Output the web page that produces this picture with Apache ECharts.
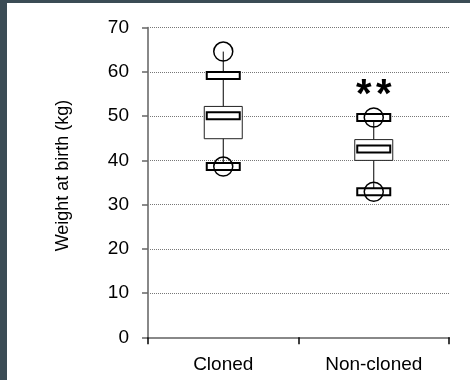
<!DOCTYPE html>
<html>
<head>
<meta charset="utf-8">
<script src="https://cdn.jsdelivr.net/npm/echarts@6/dist/echarts.min.js"></script>
<style>
  html, body { margin: 0; padding: 0; background: #3b4c55; width: 470px; height: 380px; overflow: hidden; }
  #chart { position: absolute; left: 7px; top: 3px; width: 463px; height: 377px; background: #ffffff; }
</style>
</head>
<body>
<div id="chart"></div>
<script>
// Birth weight by group (kg)
const categories = ['Cloned', 'Non-cloned'];
const maxVals    = [64.6, 49.7];  // circles, top
const upperCaps  = [59.2, 49.7];  // upper bar
const q3Vals     = [52.2, 44.7];
const medians    = [50.1, 42.6];
const q1Vals     = [44.9, 40.0];
const lowerCaps  = [38.6, 32.9];  // lower bar
const minVals    = [38.6, 32.9];  // circles, bottom
const sigMarks   = ['', '**'];
const yTicks     = [0, 10, 20, 30, 40, 50, 60, 70];

const FONT = 'Liberation Sans, Arial, sans-serif';

const boxData = categories.map((c, i) => [i, maxVals[i], upperCaps[i], q3Vals[i], medians[i], q1Vals[i], lowerCaps[i], minVals[i]]);

function renderBox(params, api) {
  const idx = api.value(0);
  const vx = api.coord([idx, 0])[0];
  const y = k => api.coord([idx, api.value(k)])[1];
  const yMax = y(1), yUp = y(2), yQ3 = y(3), yMed = y(4), yQ1 = y(5), yLow = y(6), yMin = y(7);
  const boxW = 38, barW = 33, barH = 7, r = 9.5;
  const children = [];
  // whisker
  children.push({ type: 'line', shape: { x1: vx, y1: yMax, x2: vx, y2: yMin }, style: { stroke: '#000', lineWidth: 1 } });
  // interquartile box
  children.push({ type: 'rect', shape: { x: vx - boxW / 2, y: yQ3, width: boxW, height: yQ1 - yQ3 }, style: { fill: '#fff', stroke: '#222', lineWidth: 1 } });
  // median bar
  children.push({ type: 'rect', shape: { x: vx - barW / 2, y: yMed - barH / 2, width: barW, height: barH }, style: { fill: '#fff', stroke: '#000', lineWidth: 2 } });
  // whisker caps
  [yUp, yLow].forEach(yy => {
    children.push({ type: 'rect', shape: { x: vx - barW / 2, y: yy - barH / 2, width: barW, height: barH }, style: { fill: '#fff', stroke: '#000', lineWidth: 2 } });
  });
  // extreme values
  [yMax, yMin].forEach(yy => {
    children.push({ type: 'circle', shape: { cx: vx, cy: yy, r: r }, style: { fill: 'none', stroke: '#000', lineWidth: 1.5 } });
  });
  // significance marks, one glyph each so they sit slightly apart
  const mark = sigMarks[idx];
  if (mark) {
    const n = mark.length, step = 20;
    for (let k = 0; k < n; k++) {
      children.push({
        type: 'text',
        x: vx + (k - (n - 1) / 2) * step,
        y: yMax - 22,
        style: { text: mark[k], fill: '#000', font: 'bold 40px ' + FONT, align: 'center', verticalAlign: 'middle' }
      });
    }
  }
  return { type: 'group', children: children };
}

const chart = echarts.init(document.getElementById('chart'), null, { renderer: 'canvas' });
chart.setOption({
  animation: false,
  backgroundColor: '#ffffff',
  grid: { left: 141, right: 21, top: 24.7, bottom: 42.7 },
  xAxis: {
    type: 'category',
    data: categories,
    boundaryGap: true,
    axisLine: { lineStyle: { color: '#888', width: 2 } },
    axisTick: { show: true, length: 7, lineStyle: { color: '#000', width: 1.5 } },
    axisLabel: { color: '#000', fontSize: 19, fontFamily: FONT, margin: 18 }
  },
  yAxis: {
    type: 'value',
    min: yTicks[0],
    max: yTicks[yTicks.length - 1],
    interval: 10,
    name: 'Weight at birth (kg)',
    nameLocation: 'middle',
    nameGap: 76,
    nameTextStyle: { color: '#000', fontSize: 18, fontFamily: FONT, padding: [0, 0, 0, 14] },
    axisLine: { show: true, lineStyle: { color: '#888', width: 2 } },
    axisTick: { show: true, length: 6, lineStyle: { color: '#666', width: 1.5 } },
    axisLabel: { color: '#000', fontSize: 19, fontFamily: FONT, margin: 19 },
    splitLine: { show: true, lineStyle: { color: '#777', type: [1, 1], width: 1 } }
  },
  series: [{
    type: 'custom',
    renderItem: renderBox,
    data: boxData,
    encode: { x: 0, y: [1, 7] },
    z: 5
  }]
});
</script>
</body>
</html>
